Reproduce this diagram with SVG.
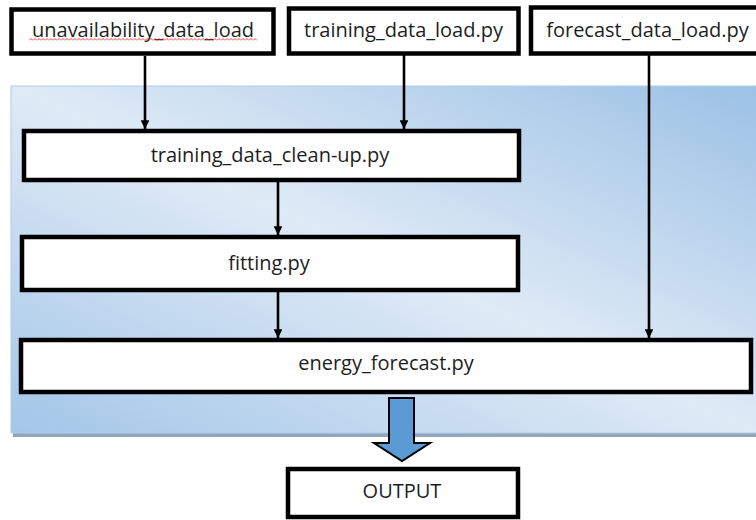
<svg xmlns="http://www.w3.org/2000/svg" width="756" height="520" viewBox="0 0 756 520">
  <style>
    .box { fill: #ffffff; stroke: #000000; stroke-width: 4.5; }
    .lbl { font-family: "Open Sans", "Liberation Sans", sans-serif; font-size: 20px; fill: #1e1e1e; text-anchor: middle; }
    .conn { stroke: #000000; stroke-width: 2.6; fill: none; marker-end: url(#ah); }
  </style>
  <defs>
    <linearGradient id="bg" x1="1" y1="0" x2="0" y2="1">
      <stop offset="0" stop-color="#9bc1e5"/>
      <stop offset="0.5" stop-color="#dfeaf6"/>
      <stop offset="1" stop-color="#a3c6e8"/>
    </linearGradient>
    <marker id="ah" viewBox="0 0 10 10" refX="10" refY="5" markerWidth="3.4" markerHeight="3.4" markerUnits="strokeWidth" orient="auto">
      <path d="M0,0 L10,5 L0,10 Z" fill="#000000"/>
    </marker>
    <pattern id="sq" x="29" y="38" width="4" height="3" patternUnits="userSpaceOnUse">
      <path d="M0,2.5 L2,0.5 L4,2.5" fill="none" stroke="#e0302a" stroke-width="0.9"/>
    </pattern>
  </defs>

  <g id="panel">
    <rect x="13" y="433" width="743" height="4" fill="#8fa6bd"/>
    <rect x="11" y="86" width="746" height="347" fill="url(#bg)" stroke="#b4cde6" stroke-width="1"/>
  </g>

  <g id="connectors">
    <line class="conn" x1="145" y1="56" x2="145" y2="129"/>
    <line class="conn" x1="404" y1="55" x2="404" y2="129"/>
    <line class="conn" x1="649" y1="55" x2="649" y2="338"/>
    <line class="conn" x1="278" y1="182" x2="278" y2="235"/>
    <line class="conn" x1="278" y1="292" x2="278" y2="338"/>
    <polygon id="output-arrow" points="389,398 414,398 414,443 430,443 402,461 374,443 389,443" fill="#5b9bd5" stroke="#000000" stroke-width="2"/>
  </g>

  <g id="node-unavailability">
    <rect class="box" x="11.5" y="9.5" width="262" height="44" stroke-width="5"/>
    <text class="lbl" x="143" y="37">unavailability_data_load</text>
    <rect x="29" y="38" width="228" height="3" fill="url(#sq)"/>
  </g>

  <g id="node-training-load">
    <rect class="box" x="289" y="8.5" width="229.5" height="45" stroke-width="3.5"/>
    <text class="lbl" x="403.5" y="37">training_data_load.py</text>
  </g>

  <g id="node-forecast-load">
    <rect class="box" x="531" y="7.5" width="240" height="46"/>
    <text class="lbl" x="647.5" y="37">forecast_data_load.py</text>
  </g>

  <g id="node-cleanup">
    <rect class="box" x="24" y="131" width="495" height="49"/>
    <text class="lbl" x="270" y="162">training_data_clean-up.py</text>
  </g>

  <g id="node-fitting">
    <rect class="box" x="22" y="237" width="496" height="53"/>
    <text class="lbl" x="269" y="270">fitting.py</text>
  </g>

  <g id="node-energy">
    <rect class="box" x="21" y="340" width="730" height="52"/>
    <text class="lbl" x="386" y="370">energy_forecast.py</text>
  </g>

  <g id="node-output">
    <rect class="box" x="288" y="469" width="230" height="48"/>
    <text class="lbl" x="402" y="498">OUTPUT</text>
  </g>
</svg>
